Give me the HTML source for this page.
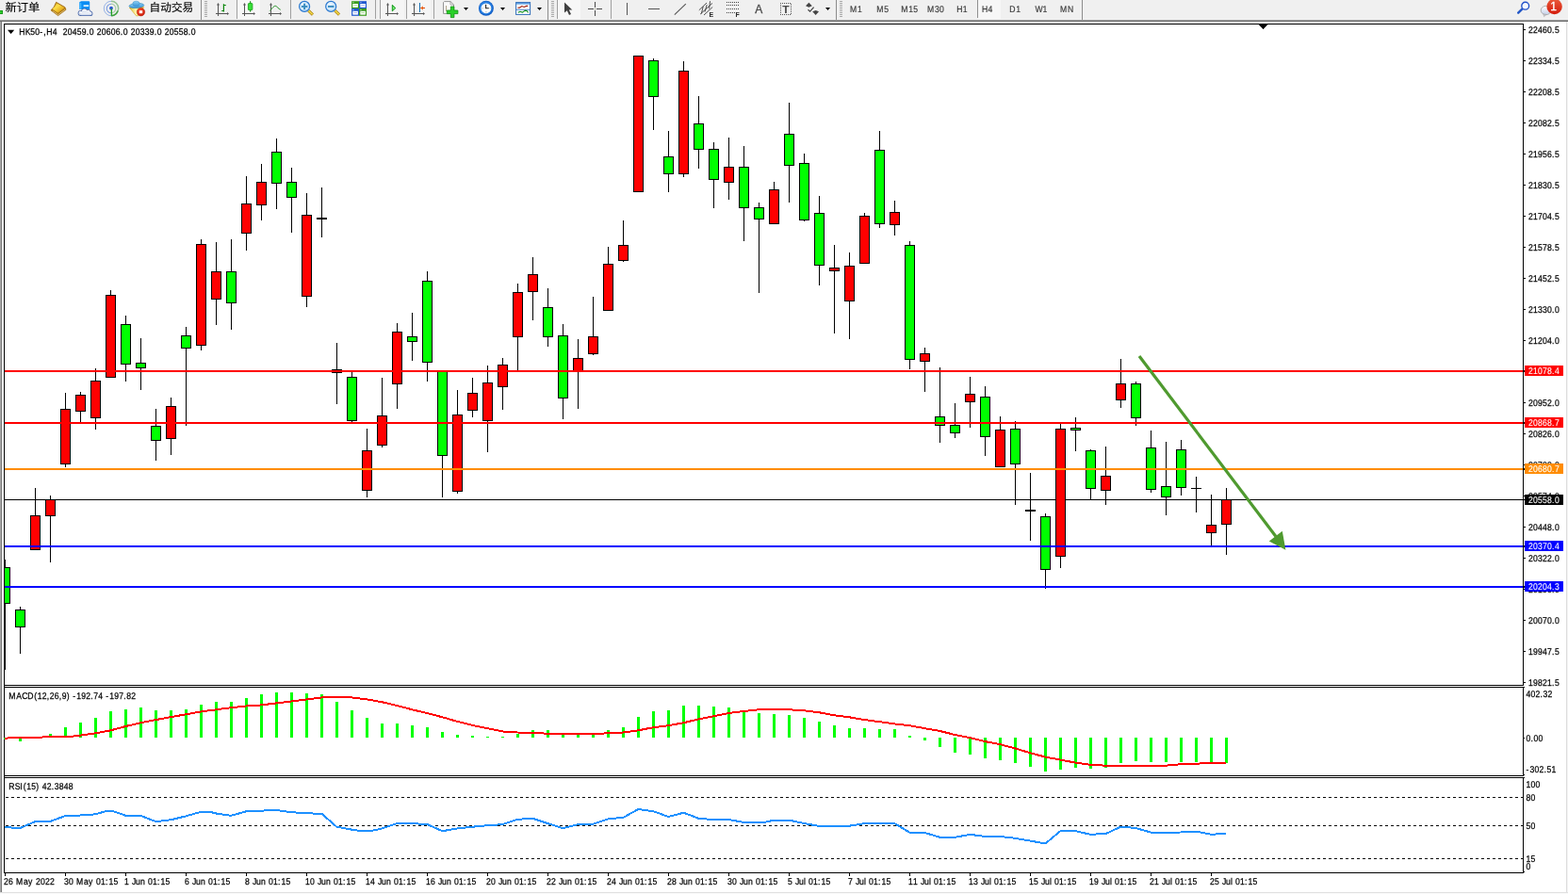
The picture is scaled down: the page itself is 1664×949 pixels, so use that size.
<!DOCTYPE html>
<html lang="zh"><head><meta charset="utf-8"><title>HK50-,H4</title>
<style>html,body{margin:0;padding:0;background:#fff;overflow:hidden}svg{display:block}text{font-family:"Liberation Sans","Noto Sans CJK SC",sans-serif}</style>
</head><body>
<svg width="1664" height="949" viewBox="0 0 1664 949">
<rect width="1664" height="949" fill="#fff"/>
<g id="toolbar">
<rect x="0" y="0" width="1664" height="21" fill="#f0f0f0"/>
<rect x="0" y="21" width="1664" height="1" fill="#a0a0a0"/>
<rect x="0" y="22" width="1664" height="1" fill="#696969"/>
<rect x="0" y="11" width="3" height="4" fill="#1a9a1a"/><rect x="0" y="12" width="2" height="2" fill="#30d030"/>
<text x="5.6" y="11.7" font-size="11.6" fill="#000" stroke="#000" stroke-width="0.15" textLength="36.8" lengthAdjust="spacingAndGlyphs">新订单</text>
<defs><linearGradient id="gBook" x1="0" y1="0" x2="1" y2="1"><stop offset="0" stop-color="#d8a020"/><stop offset="0.35" stop-color="#fbe04a"/><stop offset="0.7" stop-color="#e8b020"/><stop offset="1" stop-color="#b87818"/></linearGradient><linearGradient id="gCloud" x1="0" y1="0" x2="0" y2="1"><stop offset="0" stop-color="#ffffff"/><stop offset="1" stop-color="#c4d0e8"/></linearGradient><linearGradient id="gHat" x1="0" y1="0" x2="0" y2="1"><stop offset="0" stop-color="#8cd0f4"/><stop offset="1" stop-color="#3a94d8"/></linearGradient><linearGradient id="gFun" x1="0" y1="0" x2="1" y2="0"><stop offset="0" stop-color="#e8c020"/><stop offset="0.45" stop-color="#fdf6b0"/><stop offset="1" stop-color="#f0c828"/></linearGradient><radialGradient id="gRed" cx="0.4" cy="0.35" r="0.7"><stop offset="0" stop-color="#ff5030"/><stop offset="1" stop-color="#c81808"/></radialGradient><radialGradient id="gLens" cx="0.4" cy="0.35" r="0.7"><stop offset="0" stop-color="#f4faff"/><stop offset="1" stop-color="#b8dcf8"/></radialGradient><radialGradient id="gClock" cx="0.5" cy="0.5" r="0.5"><stop offset="0.6" stop-color="#ffffff"/><stop offset="0.72" stop-color="#4a90e0"/><stop offset="1" stop-color="#1858b8"/></radialGradient></defs>
<path d="M59.6 2.3 L69 7.7 L70 10.3 L61.6 16.6 L54.1 10.9 Q57.8 8 59.6 2.3 Z" fill="#b07a14" stroke="#a06a10" stroke-width="0.8" stroke-linejoin="round"/>
<path d="M60 3.2 L68.6 8.2 L61.4 13.8 L55.6 9.6 Q58.6 7 60 3.2 Z" fill="url(#gBook)"/>
<path d="M56 11.6 L61.6 15.6 L69.2 10" fill="none" stroke="#f0d890" stroke-width="0.7"/>
<path d="M84.3 2.2 L86.2 1.2 L94.6 1.2 L95.2 2.2 L95.2 10 L84.3 10 Z" fill="#0a8cf4"/>
<path d="M84.3 2.2 L86.4 3.4 L86.4 10 L84.3 10 Z" fill="#40b4ff"/>
<rect x="88.6" y="5.2" width="5.6" height="1.9" fill="#d8f0ff"/>
<g fill="#4a68a8"><circle cx="85.6" cy="13.9" r="3"/><circle cx="89.6" cy="12.3" r="3.5"/><circle cx="93.6" cy="12.9" r="3"/><circle cx="95.8" cy="14.4" r="2.6"/><rect x="85.6" y="14" width="10.2" height="3" rx="1"/></g>
<g fill="url(#gCloud)"><circle cx="85.6" cy="13.9" r="2.2"/><circle cx="89.6" cy="12.3" r="2.7"/><circle cx="93.6" cy="12.9" r="2.2"/><circle cx="95.8" cy="14.4" r="1.8"/><rect x="85.6" y="13.4" width="10.2" height="2.8" rx="1"/></g>
<path d="M118 1.3 A7.7 7.7 0 0 0 118 16.7" fill="none" stroke="#5a88dc" stroke-width="1" opacity="0.6"/>
<path d="M118 4.2 A4.8 4.8 0 0 0 118 13.8" fill="none" stroke="#4a78d8" stroke-width="1.1" opacity="0.7"/>
<path d="M118 1.3 A7.7 7.7 0 0 1 118 16.7" fill="none" stroke="#58a458" stroke-width="1.5" opacity="0.6"/>
<path d="M118 4.2 A4.8 4.8 0 0 1 118 13.8" fill="none" stroke="#78b478" stroke-width="1.3" opacity="0.6"/>
<path d="M118.3 16.7 A7.7 7.7 0 0 0 125 11.5" fill="none" stroke="#2a9a2a" stroke-width="1.6" opacity="0.8"/>
<circle cx="118" cy="8.7" r="1.9" fill="#2858d0"/>
<rect x="117.7" y="9.2" width="1.3" height="7.6" fill="#20a020"/>
<path d="M137.3 8 L152.6 7.6 L146.6 16.8 L144.6 16.8 Z" fill="url(#gFun)" stroke="#d0a018" stroke-width="0.6"/>
<ellipse cx="144.9" cy="6" rx="7.9" ry="2.5" fill="url(#gHat)" stroke="#2a80b8" stroke-width="0.6" transform="rotate(-4 144.9 6)"/>
<ellipse cx="144.5" cy="3.9" rx="3.7" ry="2.7" fill="url(#gHat)" stroke="#3a90c8" stroke-width="0.5"/>
<circle cx="149.5" cy="12.7" r="4.2" fill="url(#gRed)" stroke="#b01808" stroke-width="0.5"/><rect x="147.8" y="11.2" width="3.4" height="3" fill="#fff"/>
<text x="158.6" y="11.7" font-size="11.6" fill="#000" stroke="#000" stroke-width="0.15" textLength="46.6" lengthAdjust="spacingAndGlyphs">自动交易</text>
<rect x="213" y="0" width="1" height="21" fill="#8c8c8c" shape-rendering="crispEdges"/>
<rect x="217" y="1" width="3" height="1" fill="#a8a8a8" shape-rendering="crispEdges"/>
<rect x="217" y="3" width="3" height="1" fill="#a8a8a8" shape-rendering="crispEdges"/>
<rect x="217" y="5" width="3" height="1" fill="#a8a8a8" shape-rendering="crispEdges"/>
<rect x="217" y="7" width="3" height="1" fill="#a8a8a8" shape-rendering="crispEdges"/>
<rect x="217" y="9" width="3" height="1" fill="#a8a8a8" shape-rendering="crispEdges"/>
<rect x="217" y="11" width="3" height="1" fill="#a8a8a8" shape-rendering="crispEdges"/>
<rect x="217" y="13" width="3" height="1" fill="#a8a8a8" shape-rendering="crispEdges"/>
<rect x="217" y="15" width="3" height="1" fill="#a8a8a8" shape-rendering="crispEdges"/>
<rect x="217" y="17" width="3" height="1" fill="#a8a8a8" shape-rendering="crispEdges"/>
<g stroke="#555" stroke-width="1" fill="none" shape-rendering="crispEdges"><line x1="231.5" y1="4" x2="231.5" y2="17"/><line x1="229" y1="14.5" x2="242" y2="14.5"/></g>
<path d="M230 5.5 L231.5 3 L233 5.5 Z M241 13 L243 14.5 L241 16 Z" fill="#555"/>
<path d="M235.2 11.5 h2.2 M237.4 4.2 v8.4 M237.4 5.5 h2.4" fill="none" stroke="#0a860a" stroke-width="1.2"/>
<rect x="251" y="0" width="1" height="20" fill="#a0a0a0" shape-rendering="crispEdges"/>
<rect x="252" y="0" width="24" height="20" fill="#f7f7f7"/>
<g stroke="#555" stroke-width="1" fill="none" shape-rendering="crispEdges"><line x1="259.5" y1="4" x2="259.5" y2="17"/><line x1="257" y1="14.5" x2="270" y2="14.5"/></g>
<path d="M258 5.5 L259.5 3 L261 5.5 Z M269 13 L271 14.5 L269 16 Z" fill="#555"/>
<rect x="265.1" y="1.2" width="1.1" height="11.4" fill="#128a12"/><rect x="263.4" y="3.6" width="4.5" height="7" rx="0.6" fill="#38e038" stroke="#12a012" stroke-width="0.8"/>
<g stroke="#555" stroke-width="1" fill="none" shape-rendering="crispEdges"><line x1="287.5" y1="4" x2="287.5" y2="17"/><line x1="285" y1="14.5" x2="298" y2="14.5"/></g>
<path d="M286 5.5 L287.5 3 L289 5.5 Z M297 13 L299 14.5 L297 16 Z" fill="#555"/>
<path d="M286.3 11.5 C288.5 9.5 290.5 6 292.3 6.3 C294 6.6 295.5 9.5 297.7 10.3" fill="none" stroke="#1e8e1e" stroke-width="1"/>
<rect x="308" y="0" width="1" height="20" fill="#a0a0a0" shape-rendering="crispEdges"/>
<line x1="327.3" y1="11.2" x2="331.90000000000003" y2="15.6" stroke="#a87c10" stroke-width="3" stroke-linecap="butt"/>
<line x1="327.3" y1="11.2" x2="331.70000000000005" y2="15.4" stroke="#f0d848" stroke-width="1.6" stroke-linecap="butt"/>
<circle cx="323.1" cy="6.9" r="5.5" fill="url(#gLens)" stroke="#2a78d0" stroke-width="1.2"/>
<rect x="319.90000000000003" y="5.9" width="6.4" height="2" fill="#3a8cc0"/>
<rect x="322.1" y="3.7" width="2" height="6.4" fill="#3a8cc0"/>
<line x1="355.4" y1="11.2" x2="360.0" y2="15.6" stroke="#a87c10" stroke-width="3" stroke-linecap="butt"/>
<line x1="355.4" y1="11.2" x2="359.8" y2="15.4" stroke="#f0d848" stroke-width="1.6" stroke-linecap="butt"/>
<circle cx="351.2" cy="6.9" r="5.5" fill="url(#gLens)" stroke="#2a78d0" stroke-width="1.2"/>
<rect x="348.0" y="5.9" width="6.4" height="2" fill="#3a8cc0"/>
<rect x="373.1" y="1.2" width="7.9" height="7.8" fill="#3a9c1c"/><rect x="381" y="1.2" width="8" height="7.8" fill="#2058d0"/><rect x="373.1" y="9" width="7.9" height="7.8" fill="#2058d0"/><rect x="381" y="9" width="8" height="7.8" fill="#3a9c1c"/>
<rect x="374.3" y="4" width="5.6" height="3.8" fill="#fff"/><rect x="375.3" y="5.2" width="3.6" height="0.9" fill="#a8dc90"/><rect x="374.5" y="2.2" width="0.9" height="0.9" fill="#e8f0ff"/>
<rect x="382.3" y="4" width="5.6" height="3.8" fill="#fff"/><rect x="383.3" y="5.2" width="3.6" height="0.9" fill="#a0b8f0"/><rect x="382.5" y="2.2" width="0.9" height="0.9" fill="#e8f0ff"/>
<rect x="374.3" y="11.8" width="5.6" height="3.8" fill="#fff"/><rect x="375.3" y="13.0" width="3.6" height="0.9" fill="#a0b8f0"/><rect x="374.5" y="10.0" width="0.9" height="0.9" fill="#e8f0ff"/>
<rect x="382.3" y="11.8" width="5.6" height="3.8" fill="#fff"/><rect x="383.3" y="13.0" width="3.6" height="0.9" fill="#a8dc90"/><rect x="382.5" y="10.0" width="0.9" height="0.9" fill="#e8f0ff"/>
<rect x="398" y="0" width="1" height="20" fill="#a0a0a0" shape-rendering="crispEdges"/>
<rect x="403" y="0" width="1" height="20" fill="#a0a0a0" shape-rendering="crispEdges"/>
<rect x="404" y="0" width="25" height="20" fill="#f5f5f5"/>
<g stroke="#555" stroke-width="1" fill="none" shape-rendering="crispEdges"><line x1="411.5" y1="4" x2="411.5" y2="17"/><line x1="409" y1="14.5" x2="422" y2="14.5"/></g>
<path d="M410 5.5 L411.5 3 L413 5.5 Z M421 13 L423 14.5 L421 16 Z" fill="#555"/>
<path d="M416.3 5.3 L419.8 8.6 L416.3 11.8 Z" fill="#70e870" stroke="#12961a" stroke-width="1"/>
<rect x="431" y="0" width="1" height="20" fill="#a0a0a0" shape-rendering="crispEdges"/>
<rect x="432" y="0" width="25" height="20" fill="#f5f5f5"/>
<g stroke="#555" stroke-width="1" fill="none" shape-rendering="crispEdges"><line x1="439.5" y1="4" x2="439.5" y2="17"/><line x1="437" y1="14.5" x2="450" y2="14.5"/></g>
<path d="M438 5.5 L439.5 3 L441 5.5 Z M449 13 L451 14.5 L449 16 Z" fill="#555"/>
<rect x="445" y="3" width="1" height="10" fill="#1870b0"/><path d="M446.5 8.5 L451 8.5" stroke="#e04808" stroke-width="1" fill="none"/><path d="M446.3 8.5 L449 6.3 L448.6 8.5 L449 10.7 Z" fill="#e85808"/>
<rect x="460" y="0" width="1" height="20" fill="#a0a0a0" shape-rendering="crispEdges"/>
<path d="M471.5 1.6 h6.5 l3.5 3.4 v9.4 h-11 v-11.8 Z" fill="#fafafa" stroke="#8a8a8a" stroke-width="0.9" stroke-linejoin="round"/><path d="M478 1.6 v3.4 h3.5" fill="none" stroke="#8a8a8a" stroke-width="0.7"/><path d="M473.5 6 v6" stroke="#a09070" stroke-width="0.8"/>
<path d="M478.3 7 h3.6 v4 h4 v3.6 h-4 v4 h-3.6 v-4 h-4 v-3.6 h4 Z" fill="#28d028" stroke="#0c900c" stroke-width="0.8" stroke-linejoin="round"/>
<path d="M492 8 L497 8 L494.5 11 Z" fill="#000"/>
<circle cx="515.9" cy="8.8" r="8" fill="#1460c8"/><circle cx="515.6" cy="8.4" r="7" fill="#2a80e0"/><circle cx="515.9" cy="8.8" r="5.4" fill="#fdfdfd"/><path d="M515.6 4.8 V8.8 H518.8" fill="none" stroke="#222" stroke-width="1.1"/><g fill="#999"><rect x="515.4" y="12.3" width="1" height="1"/><rect x="511.6" y="8.4" width="1" height="1"/><rect x="519.6" y="8.4" width="0.8" height="0.8"/></g>
<path d="M531 8 L536 8 L533.5 11 Z" fill="#000"/>
<rect x="547.6" y="2.6" width="15" height="12.8" fill="#fdfeff" stroke="#2e6cb8" stroke-width="1"/><rect x="548" y="3" width="14.2" height="1.6" fill="#5a9ce0"/><rect x="548" y="9.8" width="14.2" height="0.9" fill="#3a78c8"/>
<path d="M549.4 8.3 l2 -0.2 l2.4 -1.6 l2.4 0.9 l2.4 -1 l1.6 0" fill="none" stroke="#a01c08" stroke-width="1.1"/><path d="M549.8 13.3 l2.2 -1 l2.4 0.8 l3 -2 l1.6 0.4 l1.6 1.8" fill="none" stroke="#10901c" stroke-width="1.1"/>
<path d="M570 8 L575 8 L572.5 11 Z" fill="#000"/>
<rect x="581" y="0" width="1" height="21" fill="#8c8c8c" shape-rendering="crispEdges"/>
<rect x="585" y="1" width="3" height="1" fill="#a8a8a8" shape-rendering="crispEdges"/>
<rect x="585" y="3" width="3" height="1" fill="#a8a8a8" shape-rendering="crispEdges"/>
<rect x="585" y="5" width="3" height="1" fill="#a8a8a8" shape-rendering="crispEdges"/>
<rect x="585" y="7" width="3" height="1" fill="#a8a8a8" shape-rendering="crispEdges"/>
<rect x="585" y="9" width="3" height="1" fill="#a8a8a8" shape-rendering="crispEdges"/>
<rect x="585" y="11" width="3" height="1" fill="#a8a8a8" shape-rendering="crispEdges"/>
<rect x="585" y="13" width="3" height="1" fill="#a8a8a8" shape-rendering="crispEdges"/>
<rect x="585" y="15" width="3" height="1" fill="#a8a8a8" shape-rendering="crispEdges"/>
<rect x="585" y="17" width="3" height="1" fill="#a8a8a8" shape-rendering="crispEdges"/>
<rect x="591" y="0" width="1" height="20" fill="#a0a0a0" shape-rendering="crispEdges"/>
<rect x="592" y="0" width="24" height="20" fill="#f7f7f7"/>
<path d="M599 2.5 L599 13.5 L601.8 11.2 L604 16 L606 15 L603.8 10.5 L607.3 10.5 Z" fill="#404040"/>
<g fill="#4a4a4a" shape-rendering="crispEdges"><rect x="631" y="2" width="1" height="6"/><rect x="631" y="11" width="1" height="6"/><rect x="624" y="9" width="6" height="1"/><rect x="633" y="9" width="6" height="1"/></g><rect x="631" y="9" width="1" height="1" fill="#8a8a6a"/>
<rect x="648" y="0" width="1" height="20" fill="#a0a0a0" shape-rendering="crispEdges"/>
<rect x="665" y="3" width="1" height="13" fill="#555" shape-rendering="crispEdges"/>
<rect x="688" y="9" width="12" height="1" fill="#555" shape-rendering="crispEdges"/>
<line x1="715.8" y1="15.6" x2="727.8" y2="4.2" stroke="#555" stroke-width="1.1"/>
<g stroke="#3c3c3c" stroke-width="0.9" fill="none"><line x1="741.8" y1="10.8" x2="750" y2="3"/><line x1="747" y1="16" x2="756.2" y2="7.5"/><line x1="743.2" y1="15" x2="756" y2="3.4"/><line x1="744.3" y1="14.6" x2="746.2" y2="7"/><line x1="748" y1="12.6" x2="750.2" y2="5"/><line x1="752.6" y1="9.4" x2="753.6" y2="1.2"/></g>
<text x="752.6" y="17.7" font-size="7" font-weight="bold" fill="#2a2a2a">E</text>
<g stroke="#444" stroke-width="1" stroke-dasharray="1 1" shape-rendering="crispEdges"><line x1="771" y1="2.5" x2="784" y2="2.5"/><line x1="771" y1="5.5" x2="784" y2="5.5"/><line x1="771" y1="9.5" x2="784" y2="9.5"/><line x1="771" y1="13.5" x2="780" y2="13.5"/></g>
<text x="780.6" y="17.7" font-size="7" font-weight="bold" fill="#2a2a2a">F</text>
<text x="801.2" y="13.8" font-size="12" fill="#4a4a4a" stroke="#4a4a4a" stroke-width="0.3">A</text>
<rect x="828" y="3" width="11" height="12.5" fill="none" stroke="#555" stroke-width="1" stroke-dasharray="1 1" shape-rendering="crispEdges"/>
<text x="830.2" y="13.8" font-size="11" font-weight="bold" fill="#4a4a4a" textLength="7.4" lengthAdjust="spacingAndGlyphs">T</text>
<path d="M855 6.3 L858.4 2.8 L861.8 6.3 L858.4 7.7 Z" fill="#444"/><path d="M862.2 12.3 L865.6 11 L869 12.3 L865.6 16 Z" fill="#444"/><path d="M857.5 10.2 L859.6 12.2 L863.6 7.6" fill="none" stroke="#444" stroke-width="1.2"/>
<path d="M876 8 L881 8 L878.5 11 Z" fill="#000"/>
<rect x="887" y="0" width="1" height="21" fill="#8c8c8c" shape-rendering="crispEdges"/>
<rect x="891" y="1" width="3" height="1" fill="#a8a8a8" shape-rendering="crispEdges"/>
<rect x="891" y="3" width="3" height="1" fill="#a8a8a8" shape-rendering="crispEdges"/>
<rect x="891" y="5" width="3" height="1" fill="#a8a8a8" shape-rendering="crispEdges"/>
<rect x="891" y="7" width="3" height="1" fill="#a8a8a8" shape-rendering="crispEdges"/>
<rect x="891" y="9" width="3" height="1" fill="#a8a8a8" shape-rendering="crispEdges"/>
<rect x="891" y="11" width="3" height="1" fill="#a8a8a8" shape-rendering="crispEdges"/>
<rect x="891" y="13" width="3" height="1" fill="#a8a8a8" shape-rendering="crispEdges"/>
<rect x="891" y="15" width="3" height="1" fill="#a8a8a8" shape-rendering="crispEdges"/>
<rect x="891" y="17" width="3" height="1" fill="#a8a8a8" shape-rendering="crispEdges"/>
<rect x="1038" y="0" width="24" height="20" fill="#f7f7f7"/>
<rect x="1037" y="0" width="1" height="19" fill="#909090" shape-rendering="crispEdges"/>
<text transform="translate(902.0,13.0) scale(0.88,1)" x="0.00 9.09" y="0" font-size="9.8" fill="#3c3c3c" stroke="#3c3c3c" stroke-width="0.2" text-rendering="geometricPrecision" xml:space="preserve">M1</text>
<text transform="translate(930.2,13.0) scale(0.88,1)" x="0.00 9.09" y="0" font-size="9.8" fill="#3c3c3c" stroke="#3c3c3c" stroke-width="0.2" text-rendering="geometricPrecision" xml:space="preserve">M5</text>
<text transform="translate(956.3,13.0) scale(0.88,1)" x="0.00 9.09 14.77" y="0" font-size="9.8" fill="#3c3c3c" stroke="#3c3c3c" stroke-width="0.2" text-rendering="geometricPrecision" xml:space="preserve">M15</text>
<text transform="translate(984.0,13.0) scale(0.88,1)" x="0.00 9.09 14.77" y="0" font-size="9.8" fill="#3c3c3c" stroke="#3c3c3c" stroke-width="0.2" text-rendering="geometricPrecision" xml:space="preserve">M30</text>
<text transform="translate(1015.2,13.0) scale(0.88,1)" x="0.00 7.39" y="0" font-size="9.8" fill="#3c3c3c" stroke="#3c3c3c" stroke-width="0.2" text-rendering="geometricPrecision" xml:space="preserve">H1</text>
<text transform="translate(1042.0,13.0) scale(0.88,1)" x="0.00 7.39" y="0" font-size="9.8" fill="#3c3c3c" stroke="#3c3c3c" stroke-width="0.2" text-rendering="geometricPrecision" xml:space="preserve">H4</text>
<text transform="translate(1071.2,13.0) scale(0.88,1)" x="0.00 7.95" y="0" font-size="9.8" fill="#3c3c3c" stroke="#3c3c3c" stroke-width="0.2" text-rendering="geometricPrecision" xml:space="preserve">D1</text>
<text transform="translate(1098.6,13.0) scale(0.88,1)" x="0.00 9.09" y="0" font-size="9.8" fill="#3c3c3c" stroke="#3c3c3c" stroke-width="0.2" text-rendering="geometricPrecision" xml:space="preserve">W1</text>
<text transform="translate(1125.1,13.0) scale(0.88,1)" x="0.00 9.09" y="0" font-size="9.8" fill="#3c3c3c" stroke="#3c3c3c" stroke-width="0.2" text-rendering="geometricPrecision" xml:space="preserve">MN</text>
<rect x="1148" y="0" width="1" height="21" fill="#8c8c8c" shape-rendering="crispEdges"/>
<line x1="1615.6" y1="9.3" x2="1611.2" y2="13.7" stroke="#2458c8" stroke-width="2.4" stroke-linecap="round"/>
<circle cx="1618.7" cy="6.2" r="3.9" fill="#f4f8ff" stroke="#2050c8" stroke-width="1.4"/>
<ellipse cx="1640.6" cy="11" rx="5.4" ry="4.7" fill="url(#gCloud)" stroke="#a8a8a8" stroke-width="0.9"/><path d="M1638 15 L1638.6 17.6 L1641 15.4 Z" fill="#d8d8e4" stroke="#a0a0a0" stroke-width="0.6"/>
<defs><linearGradient id="gBadge" x1="0" y1="0" x2="0" y2="1"><stop offset="0" stop-color="#ea5a3a"/><stop offset="1" stop-color="#d41c0c"/></linearGradient></defs>
<circle cx="1649.6" cy="7" r="8.2" fill="url(#gBadge)"/>
<text x="1648.5" y="11" font-size="12" fill="#fff" stroke="#fff" stroke-width="0.3" text-anchor="middle">1</text>
</g>
<g shape-rendering="crispEdges">
<rect x="0" y="23" width="1" height="924" fill="#a8a8a8"/><rect x="1" y="23" width="1" height="924" fill="#787878"/>
<rect x="1662" y="23" width="1" height="926" fill="#dcdcdc"/><rect x="1663" y="23" width="1" height="926" fill="#f4f4f4"/>
<rect x="0" y="947" width="1664" height="1" fill="#e0e0e0"/><rect x="0" y="948" width="1664" height="1" fill="#fafafa"/>
<rect x="4" y="25" width="1613" height="1" fill="#000"/>
<rect x="4" y="25" width="1" height="902" fill="#000"/>
<rect x="1616" y="25" width="1" height="703" fill="#000"/><rect x="1616" y="729" width="1" height="95" fill="#000"/><rect x="1616" y="825" width="1" height="102" fill="#000"/>
<rect x="1617" y="729" width="1" height="1" fill="#000"/><rect x="1617" y="822" width="1" height="1" fill="#000"/><rect x="1617" y="825" width="1" height="1" fill="#000"/><rect x="1617" y="925" width="1" height="1" fill="#000"/>
<rect x="4" y="727" width="1613" height="1" fill="#000"/>
<rect x="4" y="729" width="1613" height="1" fill="#000"/>
<rect x="4" y="823" width="1613" height="1" fill="#000"/>
<rect x="4" y="825" width="1613" height="1" fill="#000"/>
<rect x="4" y="926" width="1613" height="1" fill="#000"/>
</g>
<g fill="#000" shape-rendering="crispEdges"><rect x="1336" y="26" width="9" height="1"/><rect x="1337" y="27" width="7" height="1"/><rect x="1338" y="28" width="5" height="1"/><rect x="1339" y="29" width="3" height="1"/><rect x="1340" y="30" width="1" height="1"/></g>
<defs><clipPath id="cp"><rect x="5" y="26" width="1611" height="701"/></clipPath></defs>
<rect x="5" y="530" width="1611" height="1" fill="#000" shape-rendering="crispEdges"/>
<g id="candles" shape-rendering="crispEdges" clip-path="url(#cp)">
<rect x="5" y="594" width="1" height="117" fill="#000"/>
<rect x="0" y="602" width="11" height="39" fill="#000"/>
<rect x="1" y="603" width="9" height="37" fill="#0f0"/>
<rect x="21" y="644" width="1" height="50" fill="#000"/>
<rect x="16" y="647" width="11" height="19" fill="#000"/>
<rect x="17" y="648" width="9" height="17" fill="#0f0"/>
<rect x="37" y="518" width="1" height="66" fill="#000"/>
<rect x="32" y="547" width="11" height="37" fill="#000"/>
<rect x="33" y="548" width="9" height="35" fill="#f00"/>
<rect x="53" y="526" width="1" height="71" fill="#000"/>
<rect x="48" y="530" width="11" height="18" fill="#000"/>
<rect x="49" y="531" width="9" height="16" fill="#f00"/>
<rect x="69" y="417" width="1" height="79" fill="#000"/>
<rect x="64" y="434" width="11" height="59" fill="#000"/>
<rect x="65" y="435" width="9" height="57" fill="#f00"/>
<rect x="85" y="416" width="1" height="32" fill="#000"/>
<rect x="80" y="419" width="11" height="18" fill="#000"/>
<rect x="81" y="420" width="9" height="16" fill="#f00"/>
<rect x="101" y="391" width="1" height="65" fill="#000"/>
<rect x="96" y="404" width="11" height="40" fill="#000"/>
<rect x="97" y="405" width="9" height="38" fill="#f00"/>
<rect x="117" y="308" width="1" height="93" fill="#000"/>
<rect x="112" y="313" width="11" height="88" fill="#000"/>
<rect x="113" y="314" width="9" height="86" fill="#f00"/>
<rect x="133" y="335" width="1" height="70" fill="#000"/>
<rect x="128" y="344" width="11" height="43" fill="#000"/>
<rect x="129" y="345" width="9" height="41" fill="#0f0"/>
<rect x="149" y="359" width="1" height="55" fill="#000"/>
<rect x="144" y="385" width="11" height="6" fill="#000"/>
<rect x="145" y="386" width="9" height="4" fill="#0f0"/>
<rect x="165" y="434" width="1" height="55" fill="#000"/>
<rect x="160" y="452" width="11" height="16" fill="#000"/>
<rect x="161" y="453" width="9" height="14" fill="#0f0"/>
<rect x="181" y="422" width="1" height="61" fill="#000"/>
<rect x="176" y="431" width="11" height="35" fill="#000"/>
<rect x="177" y="432" width="9" height="33" fill="#f00"/>
<rect x="197" y="347" width="1" height="105" fill="#000"/>
<rect x="192" y="356" width="11" height="14" fill="#000"/>
<rect x="193" y="357" width="9" height="12" fill="#0f0"/>
<rect x="213" y="254" width="1" height="118" fill="#000"/>
<rect x="208" y="259" width="11" height="108" fill="#000"/>
<rect x="209" y="260" width="9" height="106" fill="#f00"/>
<rect x="229" y="257" width="1" height="88" fill="#000"/>
<rect x="224" y="288" width="11" height="30" fill="#000"/>
<rect x="225" y="289" width="9" height="28" fill="#f00"/>
<rect x="245" y="254" width="1" height="96" fill="#000"/>
<rect x="240" y="288" width="11" height="34" fill="#000"/>
<rect x="241" y="289" width="9" height="32" fill="#0f0"/>
<rect x="261" y="187" width="1" height="79" fill="#000"/>
<rect x="256" y="216" width="11" height="32" fill="#000"/>
<rect x="257" y="217" width="9" height="30" fill="#f00"/>
<rect x="277" y="174" width="1" height="60" fill="#000"/>
<rect x="272" y="193" width="11" height="25" fill="#000"/>
<rect x="273" y="194" width="9" height="23" fill="#f00"/>
<rect x="293" y="147" width="1" height="75" fill="#000"/>
<rect x="288" y="161" width="11" height="34" fill="#000"/>
<rect x="289" y="162" width="9" height="32" fill="#0f0"/>
<rect x="309" y="178" width="1" height="69" fill="#000"/>
<rect x="304" y="193" width="11" height="17" fill="#000"/>
<rect x="305" y="194" width="9" height="15" fill="#0f0"/>
<rect x="325" y="205" width="1" height="121" fill="#000"/>
<rect x="320" y="228" width="11" height="87" fill="#000"/>
<rect x="321" y="229" width="9" height="85" fill="#f00"/>
<rect x="341" y="199" width="1" height="53" fill="#000"/>
<rect x="336" y="231" width="11" height="2" fill="#000"/>
<rect x="357" y="364" width="1" height="65" fill="#000"/>
<rect x="352" y="392" width="11" height="4" fill="#000"/>
<rect x="353" y="393" width="9" height="2" fill="#f00"/>
<rect x="373" y="395" width="1" height="53" fill="#000"/>
<rect x="368" y="400" width="11" height="47" fill="#000"/>
<rect x="369" y="401" width="9" height="45" fill="#0f0"/>
<rect x="389" y="455" width="1" height="73" fill="#000"/>
<rect x="384" y="478" width="11" height="43" fill="#000"/>
<rect x="385" y="479" width="9" height="41" fill="#f00"/>
<rect x="405" y="401" width="1" height="74" fill="#000"/>
<rect x="400" y="441" width="11" height="32" fill="#000"/>
<rect x="401" y="442" width="9" height="30" fill="#f00"/>
<rect x="421" y="343" width="1" height="91" fill="#000"/>
<rect x="416" y="352" width="11" height="56" fill="#000"/>
<rect x="417" y="353" width="9" height="54" fill="#f00"/>
<rect x="437" y="332" width="1" height="51" fill="#000"/>
<rect x="432" y="357" width="11" height="6" fill="#000"/>
<rect x="433" y="358" width="9" height="4" fill="#0f0"/>
<rect x="453" y="288" width="1" height="117" fill="#000"/>
<rect x="448" y="298" width="11" height="87" fill="#000"/>
<rect x="449" y="299" width="9" height="85" fill="#0f0"/>
<rect x="469" y="394" width="1" height="134" fill="#000"/>
<rect x="464" y="394" width="11" height="90" fill="#000"/>
<rect x="465" y="395" width="9" height="88" fill="#0f0"/>
<rect x="485" y="414" width="1" height="110" fill="#000"/>
<rect x="480" y="440" width="11" height="82" fill="#000"/>
<rect x="481" y="441" width="9" height="80" fill="#f00"/>
<rect x="501" y="401" width="1" height="42" fill="#000"/>
<rect x="496" y="417" width="11" height="19" fill="#000"/>
<rect x="497" y="418" width="9" height="17" fill="#f00"/>
<rect x="517" y="388" width="1" height="92" fill="#000"/>
<rect x="512" y="406" width="11" height="41" fill="#000"/>
<rect x="513" y="407" width="9" height="39" fill="#f00"/>
<rect x="533" y="380" width="1" height="55" fill="#000"/>
<rect x="528" y="387" width="11" height="24" fill="#000"/>
<rect x="529" y="388" width="9" height="22" fill="#f00"/>
<rect x="549" y="301" width="1" height="92" fill="#000"/>
<rect x="544" y="310" width="11" height="48" fill="#000"/>
<rect x="545" y="311" width="9" height="46" fill="#f00"/>
<rect x="565" y="273" width="1" height="67" fill="#000"/>
<rect x="560" y="291" width="11" height="19" fill="#000"/>
<rect x="561" y="292" width="9" height="17" fill="#f00"/>
<rect x="581" y="306" width="1" height="62" fill="#000"/>
<rect x="576" y="326" width="11" height="32" fill="#000"/>
<rect x="577" y="327" width="9" height="30" fill="#0f0"/>
<rect x="597" y="344" width="1" height="101" fill="#000"/>
<rect x="592" y="356" width="11" height="67" fill="#000"/>
<rect x="593" y="357" width="9" height="65" fill="#0f0"/>
<rect x="613" y="360" width="1" height="74" fill="#000"/>
<rect x="608" y="380" width="11" height="14" fill="#000"/>
<rect x="609" y="381" width="9" height="12" fill="#f00"/>
<rect x="629" y="315" width="1" height="62" fill="#000"/>
<rect x="624" y="357" width="11" height="19" fill="#000"/>
<rect x="625" y="358" width="9" height="17" fill="#f00"/>
<rect x="645" y="262" width="1" height="68" fill="#000"/>
<rect x="640" y="280" width="11" height="50" fill="#000"/>
<rect x="641" y="281" width="9" height="48" fill="#f00"/>
<rect x="661" y="234" width="1" height="44" fill="#000"/>
<rect x="656" y="260" width="11" height="17" fill="#000"/>
<rect x="657" y="261" width="9" height="15" fill="#f00"/>
<rect x="677" y="59" width="1" height="145" fill="#000"/>
<rect x="672" y="59" width="11" height="145" fill="#000"/>
<rect x="673" y="60" width="9" height="143" fill="#f00"/>
<rect x="693" y="62" width="1" height="76" fill="#000"/>
<rect x="688" y="64" width="11" height="39" fill="#000"/>
<rect x="689" y="65" width="9" height="37" fill="#0f0"/>
<rect x="709" y="139" width="1" height="65" fill="#000"/>
<rect x="704" y="166" width="11" height="19" fill="#000"/>
<rect x="705" y="167" width="9" height="17" fill="#0f0"/>
<rect x="725" y="65" width="1" height="123" fill="#000"/>
<rect x="720" y="75" width="11" height="110" fill="#000"/>
<rect x="721" y="76" width="9" height="108" fill="#f00"/>
<rect x="741" y="102" width="1" height="77" fill="#000"/>
<rect x="736" y="131" width="11" height="28" fill="#000"/>
<rect x="737" y="132" width="9" height="26" fill="#0f0"/>
<rect x="757" y="151" width="1" height="70" fill="#000"/>
<rect x="752" y="158" width="11" height="33" fill="#000"/>
<rect x="753" y="159" width="9" height="31" fill="#0f0"/>
<rect x="773" y="146" width="1" height="66" fill="#000"/>
<rect x="768" y="177" width="11" height="17" fill="#000"/>
<rect x="769" y="178" width="9" height="15" fill="#f00"/>
<rect x="789" y="155" width="1" height="101" fill="#000"/>
<rect x="784" y="177" width="11" height="44" fill="#000"/>
<rect x="785" y="178" width="9" height="42" fill="#0f0"/>
<rect x="805" y="215" width="1" height="96" fill="#000"/>
<rect x="800" y="220" width="11" height="13" fill="#000"/>
<rect x="801" y="221" width="9" height="11" fill="#0f0"/>
<rect x="821" y="193" width="1" height="45" fill="#000"/>
<rect x="816" y="201" width="11" height="37" fill="#000"/>
<rect x="817" y="202" width="9" height="35" fill="#f00"/>
<rect x="837" y="109" width="1" height="106" fill="#000"/>
<rect x="832" y="142" width="11" height="34" fill="#000"/>
<rect x="833" y="143" width="9" height="32" fill="#0f0"/>
<rect x="853" y="163" width="1" height="72" fill="#000"/>
<rect x="848" y="173" width="11" height="61" fill="#000"/>
<rect x="849" y="174" width="9" height="59" fill="#0f0"/>
<rect x="869" y="208" width="1" height="95" fill="#000"/>
<rect x="864" y="226" width="11" height="56" fill="#000"/>
<rect x="865" y="227" width="9" height="54" fill="#0f0"/>
<rect x="885" y="260" width="1" height="94" fill="#000"/>
<rect x="880" y="284" width="11" height="4" fill="#000"/>
<rect x="881" y="285" width="9" height="2" fill="#f00"/>
<rect x="901" y="268" width="1" height="92" fill="#000"/>
<rect x="896" y="282" width="11" height="38" fill="#000"/>
<rect x="897" y="283" width="9" height="36" fill="#f00"/>
<rect x="917" y="226" width="1" height="54" fill="#000"/>
<rect x="912" y="229" width="11" height="51" fill="#000"/>
<rect x="913" y="230" width="9" height="49" fill="#f00"/>
<rect x="933" y="139" width="1" height="103" fill="#000"/>
<rect x="928" y="159" width="11" height="79" fill="#000"/>
<rect x="929" y="160" width="9" height="77" fill="#0f0"/>
<rect x="949" y="213" width="1" height="37" fill="#000"/>
<rect x="944" y="225" width="11" height="14" fill="#000"/>
<rect x="945" y="226" width="9" height="12" fill="#f00"/>
<rect x="965" y="256" width="1" height="136" fill="#000"/>
<rect x="960" y="260" width="11" height="122" fill="#000"/>
<rect x="961" y="261" width="9" height="120" fill="#0f0"/>
<rect x="981" y="369" width="1" height="47" fill="#000"/>
<rect x="976" y="375" width="11" height="9" fill="#000"/>
<rect x="977" y="376" width="9" height="7" fill="#f00"/>
<rect x="997" y="390" width="1" height="80" fill="#000"/>
<rect x="992" y="442" width="11" height="10" fill="#000"/>
<rect x="993" y="443" width="9" height="8" fill="#0f0"/>
<rect x="1013" y="428" width="1" height="37" fill="#000"/>
<rect x="1008" y="451" width="11" height="9" fill="#000"/>
<rect x="1009" y="452" width="9" height="7" fill="#0f0"/>
<rect x="1029" y="400" width="1" height="54" fill="#000"/>
<rect x="1024" y="418" width="11" height="9" fill="#000"/>
<rect x="1025" y="419" width="9" height="7" fill="#f00"/>
<rect x="1045" y="410" width="1" height="74" fill="#000"/>
<rect x="1040" y="421" width="11" height="43" fill="#000"/>
<rect x="1041" y="422" width="9" height="41" fill="#0f0"/>
<rect x="1061" y="442" width="1" height="54" fill="#000"/>
<rect x="1056" y="456" width="11" height="40" fill="#000"/>
<rect x="1057" y="457" width="9" height="38" fill="#f00"/>
<rect x="1077" y="447" width="1" height="89" fill="#000"/>
<rect x="1072" y="455" width="11" height="38" fill="#000"/>
<rect x="1073" y="456" width="9" height="36" fill="#0f0"/>
<rect x="1093" y="502" width="1" height="72" fill="#000"/>
<rect x="1088" y="541" width="11" height="2" fill="#000"/>
<rect x="1109" y="545" width="1" height="80" fill="#000"/>
<rect x="1104" y="548" width="11" height="57" fill="#000"/>
<rect x="1105" y="549" width="9" height="55" fill="#0f0"/>
<rect x="1125" y="450" width="1" height="153" fill="#000"/>
<rect x="1120" y="455" width="11" height="136" fill="#000"/>
<rect x="1121" y="456" width="9" height="134" fill="#f00"/>
<rect x="1141" y="443" width="1" height="36" fill="#000"/>
<rect x="1136" y="454" width="11" height="3" fill="#000"/>
<rect x="1137" y="455" width="9" height="1" fill="#0f0"/>
<rect x="1157" y="477" width="1" height="53" fill="#000"/>
<rect x="1152" y="478" width="11" height="41" fill="#000"/>
<rect x="1153" y="479" width="9" height="39" fill="#0f0"/>
<rect x="1173" y="474" width="1" height="62" fill="#000"/>
<rect x="1168" y="505" width="11" height="16" fill="#000"/>
<rect x="1169" y="506" width="9" height="14" fill="#f00"/>
<rect x="1189" y="381" width="1" height="52" fill="#000"/>
<rect x="1184" y="407" width="11" height="18" fill="#000"/>
<rect x="1185" y="408" width="9" height="16" fill="#f00"/>
<rect x="1205" y="405" width="1" height="47" fill="#000"/>
<rect x="1200" y="407" width="11" height="37" fill="#000"/>
<rect x="1201" y="408" width="9" height="35" fill="#0f0"/>
<rect x="1221" y="457" width="1" height="66" fill="#000"/>
<rect x="1216" y="475" width="11" height="45" fill="#000"/>
<rect x="1217" y="476" width="9" height="43" fill="#0f0"/>
<rect x="1237" y="469" width="1" height="78" fill="#000"/>
<rect x="1232" y="516" width="11" height="12" fill="#000"/>
<rect x="1233" y="517" width="9" height="10" fill="#0f0"/>
<rect x="1253" y="467" width="1" height="59" fill="#000"/>
<rect x="1248" y="477" width="11" height="41" fill="#000"/>
<rect x="1249" y="478" width="9" height="39" fill="#0f0"/>
<rect x="1269" y="506" width="1" height="38" fill="#000"/>
<rect x="1264" y="518" width="11" height="1" fill="#000"/>
<rect x="1285" y="525" width="1" height="54" fill="#000"/>
<rect x="1280" y="557" width="11" height="9" fill="#000"/>
<rect x="1281" y="558" width="9" height="7" fill="#f00"/>
<rect x="1301" y="518" width="1" height="71" fill="#000"/>
<rect x="1296" y="530" width="11" height="27" fill="#000"/>
<rect x="1297" y="531" width="9" height="25" fill="#f00"/>
</g>
<g id="hlines" shape-rendering="crispEdges">
<rect x="5" y="393" width="1611" height="2" fill="#f00"/>
<rect x="5" y="448" width="1611" height="2" fill="#f00"/>
<rect x="5" y="497" width="1611" height="2" fill="#ff8c00"/>
<rect x="5" y="579" width="1611" height="2" fill="#00f"/>
<rect x="5" y="622" width="1611" height="2" fill="#00f"/>
</g>
<g id="arrow">
<line x1="1209" y1="378" x2="1354" y2="569.5" stroke="#4f9a2f" stroke-width="3.2"/>
<path d="M1364.4 583.8 L1346.8 574.5 L1360.8 563.8 Z" fill="#4f9a2f"/>
</g>
<g id="paxis">
<rect x="1617" y="31" width="2" height="1" fill="#000" shape-rendering="crispEdges"/>
<text transform="translate(1621.9,35) scale(0.88,1)" x="0.00 5.68 11.36 17.05 22.73 28.41 31.82" y="0" font-size="9.8" fill="#000" stroke="#000" stroke-width="0.25" text-rendering="geometricPrecision" xml:space="preserve">22460.5</text>
<rect x="1617" y="64" width="2" height="1" fill="#000" shape-rendering="crispEdges"/>
<text transform="translate(1621.9,68) scale(0.88,1)" x="0.00 5.68 11.36 17.05 22.73 28.41 31.82" y="0" font-size="9.8" fill="#000" stroke="#000" stroke-width="0.25" text-rendering="geometricPrecision" xml:space="preserve">22334.5</text>
<rect x="1617" y="97" width="2" height="1" fill="#000" shape-rendering="crispEdges"/>
<text transform="translate(1621.9,101) scale(0.88,1)" x="0.00 5.68 11.36 17.05 22.73 28.41 31.82" y="0" font-size="9.8" fill="#000" stroke="#000" stroke-width="0.25" text-rendering="geometricPrecision" xml:space="preserve">22208.5</text>
<rect x="1617" y="130" width="2" height="1" fill="#000" shape-rendering="crispEdges"/>
<text transform="translate(1621.9,134) scale(0.88,1)" x="0.00 5.68 11.36 17.05 22.73 28.41 31.82" y="0" font-size="9.8" fill="#000" stroke="#000" stroke-width="0.25" text-rendering="geometricPrecision" xml:space="preserve">22082.5</text>
<rect x="1617" y="163" width="2" height="1" fill="#000" shape-rendering="crispEdges"/>
<text transform="translate(1621.9,167) scale(0.88,1)" x="0.00 5.68 11.36 17.05 22.73 28.41 31.82" y="0" font-size="9.8" fill="#000" stroke="#000" stroke-width="0.25" text-rendering="geometricPrecision" xml:space="preserve">21956.5</text>
<rect x="1617" y="196" width="2" height="1" fill="#000" shape-rendering="crispEdges"/>
<text transform="translate(1621.9,200) scale(0.88,1)" x="0.00 5.68 11.36 17.05 22.73 28.41 31.82" y="0" font-size="9.8" fill="#000" stroke="#000" stroke-width="0.25" text-rendering="geometricPrecision" xml:space="preserve">21830.5</text>
<rect x="1617" y="229" width="2" height="1" fill="#000" shape-rendering="crispEdges"/>
<text transform="translate(1621.9,233) scale(0.88,1)" x="0.00 5.68 11.36 17.05 22.73 28.41 31.82" y="0" font-size="9.8" fill="#000" stroke="#000" stroke-width="0.25" text-rendering="geometricPrecision" xml:space="preserve">21704.5</text>
<rect x="1617" y="262" width="2" height="1" fill="#000" shape-rendering="crispEdges"/>
<text transform="translate(1621.9,266) scale(0.88,1)" x="0.00 5.68 11.36 17.05 22.73 28.41 31.82" y="0" font-size="9.8" fill="#000" stroke="#000" stroke-width="0.25" text-rendering="geometricPrecision" xml:space="preserve">21578.5</text>
<rect x="1617" y="295" width="2" height="1" fill="#000" shape-rendering="crispEdges"/>
<text transform="translate(1621.9,299) scale(0.88,1)" x="0.00 5.68 11.36 17.05 22.73 28.41 31.82" y="0" font-size="9.8" fill="#000" stroke="#000" stroke-width="0.25" text-rendering="geometricPrecision" xml:space="preserve">21452.5</text>
<rect x="1617" y="328" width="2" height="1" fill="#000" shape-rendering="crispEdges"/>
<text transform="translate(1621.9,332) scale(0.88,1)" x="0.00 5.68 11.36 17.05 22.73 28.41 31.82" y="0" font-size="9.8" fill="#000" stroke="#000" stroke-width="0.25" text-rendering="geometricPrecision" xml:space="preserve">21330.0</text>
<rect x="1617" y="361" width="2" height="1" fill="#000" shape-rendering="crispEdges"/>
<text transform="translate(1621.9,365) scale(0.88,1)" x="0.00 5.68 11.36 17.05 22.73 28.41 31.82" y="0" font-size="9.8" fill="#000" stroke="#000" stroke-width="0.25" text-rendering="geometricPrecision" xml:space="preserve">21204.0</text>
<rect x="1617" y="394" width="2" height="1" fill="#000" shape-rendering="crispEdges"/>
<text transform="translate(1621.9,398) scale(0.88,1)" x="0.00 5.68 11.36 17.05 22.73 28.41 31.82" y="0" font-size="9.8" fill="#000" stroke="#000" stroke-width="0.25" text-rendering="geometricPrecision" xml:space="preserve">21078.0</text>
<rect x="1617" y="427" width="2" height="1" fill="#000" shape-rendering="crispEdges"/>
<text transform="translate(1621.9,431) scale(0.88,1)" x="0.00 5.68 11.36 17.05 22.73 28.41 31.82" y="0" font-size="9.8" fill="#000" stroke="#000" stroke-width="0.25" text-rendering="geometricPrecision" xml:space="preserve">20952.0</text>
<rect x="1617" y="460" width="2" height="1" fill="#000" shape-rendering="crispEdges"/>
<text transform="translate(1621.9,464) scale(0.88,1)" x="0.00 5.68 11.36 17.05 22.73 28.41 31.82" y="0" font-size="9.8" fill="#000" stroke="#000" stroke-width="0.25" text-rendering="geometricPrecision" xml:space="preserve">20826.0</text>
<rect x="1617" y="493" width="2" height="1" fill="#000" shape-rendering="crispEdges"/>
<text transform="translate(1621.9,497) scale(0.88,1)" x="0.00 5.68 11.36 17.05 22.73 28.41 31.82" y="0" font-size="9.8" fill="#000" stroke="#000" stroke-width="0.25" text-rendering="geometricPrecision" xml:space="preserve">20700.0</text>
<rect x="1617" y="526" width="2" height="1" fill="#000" shape-rendering="crispEdges"/>
<text transform="translate(1621.9,530) scale(0.88,1)" x="0.00 5.68 11.36 17.05 22.73 28.41 31.82" y="0" font-size="9.8" fill="#000" stroke="#000" stroke-width="0.25" text-rendering="geometricPrecision" xml:space="preserve">20574.0</text>
<rect x="1617" y="559" width="2" height="1" fill="#000" shape-rendering="crispEdges"/>
<text transform="translate(1621.9,563) scale(0.88,1)" x="0.00 5.68 11.36 17.05 22.73 28.41 31.82" y="0" font-size="9.8" fill="#000" stroke="#000" stroke-width="0.25" text-rendering="geometricPrecision" xml:space="preserve">20448.0</text>
<rect x="1617" y="592" width="2" height="1" fill="#000" shape-rendering="crispEdges"/>
<text transform="translate(1621.9,596) scale(0.88,1)" x="0.00 5.68 11.36 17.05 22.73 28.41 31.82" y="0" font-size="9.8" fill="#000" stroke="#000" stroke-width="0.25" text-rendering="geometricPrecision" xml:space="preserve">20322.0</text>
<rect x="1617" y="625" width="2" height="1" fill="#000" shape-rendering="crispEdges"/>
<text transform="translate(1621.9,629) scale(0.88,1)" x="0.00 5.68 11.36 17.05 22.73 28.41 31.82" y="0" font-size="9.8" fill="#000" stroke="#000" stroke-width="0.25" text-rendering="geometricPrecision" xml:space="preserve">20196.0</text>
<rect x="1617" y="658" width="2" height="1" fill="#000" shape-rendering="crispEdges"/>
<text transform="translate(1621.9,662) scale(0.88,1)" x="0.00 5.68 11.36 17.05 22.73 28.41 31.82" y="0" font-size="9.8" fill="#000" stroke="#000" stroke-width="0.25" text-rendering="geometricPrecision" xml:space="preserve">20070.0</text>
<rect x="1617" y="691" width="2" height="1" fill="#000" shape-rendering="crispEdges"/>
<text transform="translate(1621.9,695) scale(0.88,1)" x="0.00 5.68 11.36 17.05 22.73 28.41 31.82" y="0" font-size="9.8" fill="#000" stroke="#000" stroke-width="0.25" text-rendering="geometricPrecision" xml:space="preserve">19947.5</text>
<rect x="1617" y="724" width="2" height="1" fill="#000" shape-rendering="crispEdges"/>
<text transform="translate(1621.9,728) scale(0.88,1)" x="0.00 5.68 11.36 17.05 22.73 28.41 31.82" y="0" font-size="9.8" fill="#000" stroke="#000" stroke-width="0.25" text-rendering="geometricPrecision" xml:space="preserve">19821.5</text>
<rect x="1617" y="393" width="1" height="2" fill="#000" shape-rendering="crispEdges"/>
<rect x="1618" y="388" width="41" height="11" fill="#f00" shape-rendering="crispEdges"/>
<text transform="translate(1621.9,397) scale(0.88,1)" x="0.00 5.68 11.36 17.05 22.73 28.41 31.82" y="0" font-size="9.8" fill="#fff" stroke="#fff" stroke-width="0.1" text-rendering="geometricPrecision" xml:space="preserve">21078.4</text>
<rect x="1617" y="448" width="1" height="2" fill="#000" shape-rendering="crispEdges"/>
<rect x="1618" y="443" width="41" height="11" fill="#f00" shape-rendering="crispEdges"/>
<text transform="translate(1621.9,452) scale(0.88,1)" x="0.00 5.68 11.36 17.05 22.73 28.41 31.82" y="0" font-size="9.8" fill="#fff" stroke="#fff" stroke-width="0.1" text-rendering="geometricPrecision" xml:space="preserve">20868.7</text>
<rect x="1617" y="497" width="1" height="2" fill="#000" shape-rendering="crispEdges"/>
<rect x="1618" y="492" width="41" height="11" fill="#ff8c00" shape-rendering="crispEdges"/>
<text transform="translate(1621.9,501) scale(0.88,1)" x="0.00 5.68 11.36 17.05 22.73 28.41 31.82" y="0" font-size="9.8" fill="#fff" stroke="#fff" stroke-width="0.1" text-rendering="geometricPrecision" xml:space="preserve">20680.7</text>
<rect x="1617" y="579" width="1" height="2" fill="#000" shape-rendering="crispEdges"/>
<rect x="1618" y="574" width="41" height="11" fill="#00f" shape-rendering="crispEdges"/>
<text transform="translate(1621.9,583) scale(0.88,1)" x="0.00 5.68 11.36 17.05 22.73 28.41 31.82" y="0" font-size="9.8" fill="#fff" stroke="#fff" stroke-width="0.1" text-rendering="geometricPrecision" xml:space="preserve">20370.4</text>
<rect x="1617" y="622" width="1" height="2" fill="#000" shape-rendering="crispEdges"/>
<rect x="1618" y="617" width="41" height="11" fill="#00f" shape-rendering="crispEdges"/>
<text transform="translate(1621.9,626) scale(0.88,1)" x="0.00 5.68 11.36 17.05 22.73 28.41 31.82" y="0" font-size="9.8" fill="#fff" stroke="#fff" stroke-width="0.1" text-rendering="geometricPrecision" xml:space="preserve">20204.3</text>
<rect x="1617" y="530" width="1" height="1" fill="#000" shape-rendering="crispEdges"/>
<rect x="1618" y="525" width="41" height="11" fill="#000" shape-rendering="crispEdges"/>
<text transform="translate(1621.9,534) scale(0.88,1)" x="0.00 5.68 11.36 17.05 22.73 28.41 31.82" y="0" font-size="9.8" fill="#fff" stroke="#fff" stroke-width="0.1" text-rendering="geometricPrecision" xml:space="preserve">20558.0</text>
</g>
<path d="M8 31.8 L15.2 31.8 L11.6 36 Z" fill="#000"/>
<text transform="translate(20.3,37) scale(0.88,1)" x="0.00 7.39 13.64 19.32 25.00 29.55 32.95 40.34 46.02 49.43 52.84 58.52 64.20 69.89 75.57 81.25 84.66 90.34 93.75 99.43 105.11 110.80 116.48 122.16 125.57 131.25 134.66 140.34 146.02 151.70 157.39 163.07 166.48 172.16 175.57 181.25 186.93 192.61 198.30 203.98 207.39" y="0" font-size="9.8" fill="#000" stroke="#000" stroke-width="0.25" text-rendering="geometricPrecision" xml:space="preserve">HK50-,H4  20459.0 20606.0 20339.0 20558.0</text>
<text transform="translate(9.3,742) scale(0.88,1)" x="0.00 9.09 15.91 22.73 30.68 34.66 40.34 46.02 49.43 55.11 60.80 64.20 69.89 73.86 77.27 81.82 87.50 93.18 98.86 102.27 107.95 113.64 117.05 121.59 127.27 132.95 138.64 142.05 147.73" y="0" font-size="9.8" fill="#000" stroke="#000" stroke-width="0.25" text-rendering="geometricPrecision" xml:space="preserve">MACD(12,26,9) -192.74 -197.82</text>
<text transform="translate(9.3,838) scale(0.88,1)" x="0.00 7.39 13.64 17.61 21.59 27.27 32.95 36.93 40.34 46.02 51.70 55.11 60.80 66.48 72.16" y="0" font-size="9.8" fill="#000" stroke="#000" stroke-width="0.25" text-rendering="geometricPrecision" xml:space="preserve">RSI(15) 42.3848</text>
<g id="macd" shape-rendering="crispEdges">
<rect x="4" y="783" width="3" height="2" fill="#0f0"/>
<rect x="20" y="783" width="3" height="4" fill="#0f0"/>
<rect x="52" y="779" width="3" height="4" fill="#0f0"/>
<rect x="68" y="772" width="3" height="11" fill="#0f0"/>
<rect x="84" y="767" width="3" height="16" fill="#0f0"/>
<rect x="100" y="762" width="3" height="21" fill="#0f0"/>
<rect x="116" y="755" width="3" height="28" fill="#0f0"/>
<rect x="132" y="753" width="3" height="30" fill="#0f0"/>
<rect x="148" y="751" width="3" height="32" fill="#0f0"/>
<rect x="164" y="754" width="3" height="29" fill="#0f0"/>
<rect x="180" y="754" width="3" height="29" fill="#0f0"/>
<rect x="196" y="753" width="3" height="30" fill="#0f0"/>
<rect x="212" y="748" width="3" height="35" fill="#0f0"/>
<rect x="228" y="745" width="3" height="38" fill="#0f0"/>
<rect x="244" y="745" width="3" height="38" fill="#0f0"/>
<rect x="260" y="741" width="3" height="42" fill="#0f0"/>
<rect x="276" y="737" width="3" height="46" fill="#0f0"/>
<rect x="292" y="735" width="3" height="48" fill="#0f0"/>
<rect x="308" y="735" width="3" height="48" fill="#0f0"/>
<rect x="324" y="736" width="3" height="47" fill="#0f0"/>
<rect x="340" y="737" width="3" height="46" fill="#0f0"/>
<rect x="356" y="745" width="3" height="38" fill="#0f0"/>
<rect x="372" y="754" width="3" height="29" fill="#0f0"/>
<rect x="388" y="762" width="3" height="21" fill="#0f0"/>
<rect x="404" y="768" width="3" height="15" fill="#0f0"/>
<rect x="420" y="768" width="3" height="15" fill="#0f0"/>
<rect x="436" y="770" width="3" height="13" fill="#0f0"/>
<rect x="452" y="772" width="3" height="11" fill="#0f0"/>
<rect x="468" y="777" width="3" height="6" fill="#0f0"/>
<rect x="484" y="780" width="3" height="3" fill="#0f0"/>
<rect x="500" y="781" width="3" height="2" fill="#0f0"/>
<rect x="516" y="782" width="3" height="1" fill="#0f0"/>
<rect x="532" y="782" width="3" height="1" fill="#0f0"/>
<rect x="548" y="779" width="3" height="4" fill="#0f0"/>
<rect x="564" y="775" width="3" height="8" fill="#0f0"/>
<rect x="580" y="775" width="3" height="8" fill="#0f0"/>
<rect x="596" y="780" width="3" height="3" fill="#0f0"/>
<rect x="612" y="780" width="3" height="3" fill="#0f0"/>
<rect x="628" y="780" width="3" height="3" fill="#0f0"/>
<rect x="644" y="775" width="3" height="8" fill="#0f0"/>
<rect x="660" y="772" width="3" height="11" fill="#0f0"/>
<rect x="676" y="761" width="3" height="22" fill="#0f0"/>
<rect x="692" y="755" width="3" height="28" fill="#0f0"/>
<rect x="708" y="754" width="3" height="29" fill="#0f0"/>
<rect x="724" y="749" width="3" height="34" fill="#0f0"/>
<rect x="740" y="749" width="3" height="34" fill="#0f0"/>
<rect x="756" y="750" width="3" height="33" fill="#0f0"/>
<rect x="772" y="751" width="3" height="32" fill="#0f0"/>
<rect x="788" y="755" width="3" height="28" fill="#0f0"/>
<rect x="804" y="757" width="3" height="26" fill="#0f0"/>
<rect x="820" y="758" width="3" height="25" fill="#0f0"/>
<rect x="836" y="759" width="3" height="24" fill="#0f0"/>
<rect x="852" y="762" width="3" height="21" fill="#0f0"/>
<rect x="868" y="766" width="3" height="17" fill="#0f0"/>
<rect x="884" y="770" width="3" height="13" fill="#0f0"/>
<rect x="900" y="773" width="3" height="10" fill="#0f0"/>
<rect x="916" y="773" width="3" height="10" fill="#0f0"/>
<rect x="932" y="774" width="3" height="9" fill="#0f0"/>
<rect x="948" y="774" width="3" height="9" fill="#0f0"/>
<rect x="964" y="781" width="3" height="2" fill="#0f0"/>
<rect x="980" y="783" width="3" height="3" fill="#0f0"/>
<rect x="996" y="783" width="3" height="10" fill="#0f0"/>
<rect x="1012" y="783" width="3" height="16" fill="#0f0"/>
<rect x="1028" y="783" width="3" height="18" fill="#0f0"/>
<rect x="1044" y="783" width="3" height="22" fill="#0f0"/>
<rect x="1060" y="783" width="3" height="24" fill="#0f0"/>
<rect x="1076" y="783" width="3" height="27" fill="#0f0"/>
<rect x="1092" y="783" width="3" height="31" fill="#0f0"/>
<rect x="1108" y="783" width="3" height="36" fill="#0f0"/>
<rect x="1124" y="783" width="3" height="34" fill="#0f0"/>
<rect x="1140" y="783" width="3" height="32" fill="#0f0"/>
<rect x="1156" y="783" width="3" height="33" fill="#0f0"/>
<rect x="1172" y="783" width="3" height="32" fill="#0f0"/>
<rect x="1188" y="783" width="3" height="27" fill="#0f0"/>
<rect x="1204" y="783" width="3" height="25" fill="#0f0"/>
<rect x="1220" y="783" width="3" height="26" fill="#0f0"/>
<rect x="1236" y="783" width="3" height="26" fill="#0f0"/>
<rect x="1252" y="783" width="3" height="26" fill="#0f0"/>
<rect x="1268" y="783" width="3" height="26" fill="#0f0"/>
<rect x="1284" y="783" width="3" height="26" fill="#0f0"/>
<rect x="1300" y="783" width="3" height="27" fill="#0f0"/>
</g>
<defs><clipPath id="cm"><rect x="5" y="730" width="1611" height="93"/></clipPath><clipPath id="cr"><rect x="5" y="826" width="1611" height="100"/></clipPath></defs>
<polyline clip-path="url(#cm)" shape-rendering="crispEdges" fill="none" stroke="#f00" stroke-width="2" stroke-linejoin="round" points="5.1,783.6 21.5,783.1 53.4,782.3 75.9,781.8 85.5,780.6 101.4,778.3 117.6,775.3 133.5,771.0 149.4,767.2 165.4,764.1 181.3,761.1 197.5,758.3 213.7,755.3 229.4,753.3 245.3,751.2 261.5,749.5 277.4,748.4 293.3,746.4 309.5,744.4 325.5,742.4 341.4,740.4 357.3,739.9 373.5,740.4 389.4,742.4 405.1,745.2 421.5,749.0 437.4,753.3 453.4,757.0 469.5,761.3 485.5,765.9 501.4,769.9 517.6,773.2 533.5,776.5 549.4,777.5 565.4,777.8 581.3,778.8 597.5,779.0 613.7,779.0 629.4,779.0 645.3,778.3 661.5,777.5 677.4,775.3 693.3,772.2 709.5,770.2 725.5,767.2 741.4,763.4 757.3,760.3 773.5,757.0 789.4,755.0 805.1,753.3 821.5,753.0 837.4,753.3 853.4,754.3 869.5,756.3 885.5,759.3 901.4,761.3 917.6,764.1 933.5,766.2 949.4,768.4 965.4,770.2 981.3,773.2 997.5,776.0 1013.7,780.1 1029.4,783.1 1045.3,787.1 1061.5,790.2 1077.4,794.5 1093.3,799.3 1109.5,803.6 1125.5,806.6 1141.4,809.6 1157.3,811.9 1173.5,812.7 1189.4,812.9 1205.1,812.9 1221.5,812.9 1237.4,812.7 1253.4,811.2 1269.5,810.7 1285.5,809.9 1301.4,809.9"/>
<rect x="1617" y="783" width="1" height="1" fill="#000" shape-rendering="crispEdges"/>
<text transform="translate(1619.4,740) scale(0.88,1)" x="0.00 5.68 11.36 17.05 20.45 26.14" y="0" font-size="9.8" fill="#000" stroke="#000" stroke-width="0.25" text-rendering="geometricPrecision" xml:space="preserve">402.32</text>
<text transform="translate(1619.4,787) scale(0.88,1)" x="0.00 5.68 9.09 14.77" y="0" font-size="9.8" fill="#000" stroke="#000" stroke-width="0.25" text-rendering="geometricPrecision" xml:space="preserve">0.00</text>
<text transform="translate(1619.4,820) scale(0.88,1)" x="0.00 4.55 10.23 15.91 21.59 25.00 30.68" y="0" font-size="9.8" fill="#000" stroke="#000" stroke-width="0.25" text-rendering="geometricPrecision" xml:space="preserve">-302.51</text>
<g id="rsi" shape-rendering="crispEdges">
<line x1="6" y1="846.5" x2="1616" y2="846.5" stroke="#000" stroke-width="1" stroke-dasharray="3 3"/>
<line x1="6" y1="876.5" x2="1616" y2="876.5" stroke="#000" stroke-width="1" stroke-dasharray="3 3"/>
<line x1="6" y1="911.5" x2="1616" y2="911.5" stroke="#000" stroke-width="1" stroke-dasharray="3 3"/>
</g>
<polyline clip-path="url(#cr)" shape-rendering="crispEdges" fill="none" stroke="#1e90ff" stroke-width="2" stroke-linejoin="round" points="5.1,877.7 15.2,878.9 21.5,878.9 37.4,872.1 53.4,871.9 69.5,866.0 85.5,865.5 101.4,864.3 113.8,860.7 118.9,860.7 133.5,865.8 149.4,866.0 165.4,872.1 181.3,870.3 197.5,866.3 213.7,861.7 222.5,861.7 229.4,863.5 245.3,865.8 261.5,861.2 277.4,860.7 285.8,860.0 293.3,860.0 309.5,862.2 325.5,863.3 341.4,863.8 357.3,877.7 373.5,880.7 384.4,882.2 392.0,882.2 400.0,880.7 405.1,879.4 421.5,874.1 437.4,874.1 453.4,875.1 469.5,882.2 485.5,879.4 501.4,877.7 517.6,876.2 533.5,875.1 549.4,869.8 565.4,868.8 581.3,874.1 597.5,879.2 613.7,875.1 629.4,874.6 645.3,869.3 661.5,867.8 677.4,859.0 693.3,861.2 709.5,867.0 725.5,862.7 741.4,868.8 757.3,870.1 773.5,870.1 789.4,872.9 800.0,872.9 812.6,872.6 821.5,870.6 837.4,870.6 853.4,874.1 869.5,876.9 885.5,876.9 901.4,876.7 917.6,874.1 933.5,874.1 949.4,874.1 965.4,883.7 981.3,884.0 997.5,888.8 1013.7,888.8 1029.4,885.8 1045.3,888.0 1061.5,888.0 1077.4,889.8 1093.3,892.6 1109.5,895.4 1125.5,882.0 1141.4,882.2 1157.3,885.8 1173.5,885.0 1189.4,877.7 1205.1,878.9 1221.5,883.7 1237.4,883.7 1253.4,883.5 1269.5,882.7 1285.5,885.8 1293.6,885.3 1301.4,884.7"/>
<text transform="translate(1619.4,836) scale(0.88,1)" x="0.00 5.68 11.36" y="0" font-size="9.8" fill="#000" stroke="#000" stroke-width="0.25" text-rendering="geometricPrecision" xml:space="preserve">100</text>
<text transform="translate(1619.4,850) scale(0.88,1)" x="0.00 5.68" y="0" font-size="9.8" fill="#000" stroke="#000" stroke-width="0.25" text-rendering="geometricPrecision" xml:space="preserve">80</text>
<text transform="translate(1619.4,880) scale(0.88,1)" x="0.00 5.68" y="0" font-size="9.8" fill="#000" stroke="#000" stroke-width="0.25" text-rendering="geometricPrecision" xml:space="preserve">50</text>
<text transform="translate(1619.4,915) scale(0.88,1)" x="0.00 5.68" y="0" font-size="9.8" fill="#000" stroke="#000" stroke-width="0.25" text-rendering="geometricPrecision" xml:space="preserve">15</text>
<text transform="translate(1619.4,923) scale(0.88,1)" x="0.00" y="0" font-size="9.8" fill="#000" stroke="#000" stroke-width="0.25" text-rendering="geometricPrecision" xml:space="preserve">0</text>
<g id="taxis">
<rect x="5" y="927" width="1" height="3" fill="#000" shape-rendering="crispEdges"/>
<text transform="translate(4.1,939) scale(0.88,1)" x="0.00 5.68 11.36 14.77 23.86 29.55 35.23 38.64 44.32 50.00 55.68" y="0" font-size="9.8" fill="#000" stroke="#000" stroke-width="0.25" text-rendering="geometricPrecision" xml:space="preserve">26 May 2022</text>
<rect x="69" y="927" width="1" height="3" fill="#000" shape-rendering="crispEdges"/>
<text transform="translate(68.1,939) scale(0.88,1)" x="0.00 5.68 11.36 14.77 23.86 29.55 35.23 38.64 44.32 50.00 53.75 59.43" y="0" font-size="9.8" fill="#000" stroke="#000" stroke-width="0.25" text-rendering="geometricPrecision" xml:space="preserve">30 May 01:15</text>
<rect x="133" y="927" width="1" height="3" fill="#000" shape-rendering="crispEdges"/>
<text transform="translate(132.1,939) scale(0.88,1)" x="0.00 5.68 9.09 13.64 19.32 25.00 28.41 34.09 39.77 43.52 49.20" y="0" font-size="9.8" fill="#000" stroke="#000" stroke-width="0.25" text-rendering="geometricPrecision" xml:space="preserve">1 Jun 01:15</text>
<rect x="197" y="927" width="1" height="3" fill="#000" shape-rendering="crispEdges"/>
<text transform="translate(196.1,939) scale(0.88,1)" x="0.00 5.68 9.09 13.64 19.32 25.00 28.41 34.09 39.77 43.52 49.20" y="0" font-size="9.8" fill="#000" stroke="#000" stroke-width="0.25" text-rendering="geometricPrecision" xml:space="preserve">6 Jun 01:15</text>
<rect x="261" y="927" width="1" height="3" fill="#000" shape-rendering="crispEdges"/>
<text transform="translate(260.1,939) scale(0.88,1)" x="0.00 5.68 9.09 13.64 19.32 25.00 28.41 34.09 39.77 43.52 49.20" y="0" font-size="9.8" fill="#000" stroke="#000" stroke-width="0.25" text-rendering="geometricPrecision" xml:space="preserve">8 Jun 01:15</text>
<rect x="325" y="927" width="1" height="3" fill="#000" shape-rendering="crispEdges"/>
<text transform="translate(324.1,939) scale(0.88,1)" x="0.00 5.68 11.36 14.77 19.32 25.00 30.68 34.09 39.77 45.45 49.20 54.89" y="0" font-size="9.8" fill="#000" stroke="#000" stroke-width="0.25" text-rendering="geometricPrecision" xml:space="preserve">10 Jun 01:15</text>
<rect x="389" y="927" width="1" height="3" fill="#000" shape-rendering="crispEdges"/>
<text transform="translate(388.1,939) scale(0.88,1)" x="0.00 5.68 11.36 14.77 19.32 25.00 30.68 34.09 39.77 45.45 49.20 54.89" y="0" font-size="9.8" fill="#000" stroke="#000" stroke-width="0.25" text-rendering="geometricPrecision" xml:space="preserve">14 Jun 01:15</text>
<rect x="453" y="927" width="1" height="3" fill="#000" shape-rendering="crispEdges"/>
<text transform="translate(452.1,939) scale(0.88,1)" x="0.00 5.68 11.36 14.77 19.32 25.00 30.68 34.09 39.77 45.45 49.20 54.89" y="0" font-size="9.8" fill="#000" stroke="#000" stroke-width="0.25" text-rendering="geometricPrecision" xml:space="preserve">16 Jun 01:15</text>
<rect x="517" y="927" width="1" height="3" fill="#000" shape-rendering="crispEdges"/>
<text transform="translate(516.1,939) scale(0.88,1)" x="0.00 5.68 11.36 14.77 19.32 25.00 30.68 34.09 39.77 45.45 49.20 54.89" y="0" font-size="9.8" fill="#000" stroke="#000" stroke-width="0.25" text-rendering="geometricPrecision" xml:space="preserve">20 Jun 01:15</text>
<rect x="581" y="927" width="1" height="3" fill="#000" shape-rendering="crispEdges"/>
<text transform="translate(580.1,939) scale(0.88,1)" x="0.00 5.68 11.36 14.77 19.32 25.00 30.68 34.09 39.77 45.45 49.20 54.89" y="0" font-size="9.8" fill="#000" stroke="#000" stroke-width="0.25" text-rendering="geometricPrecision" xml:space="preserve">22 Jun 01:15</text>
<rect x="645" y="927" width="1" height="3" fill="#000" shape-rendering="crispEdges"/>
<text transform="translate(644.1,939) scale(0.88,1)" x="0.00 5.68 11.36 14.77 19.32 25.00 30.68 34.09 39.77 45.45 49.20 54.89" y="0" font-size="9.8" fill="#000" stroke="#000" stroke-width="0.25" text-rendering="geometricPrecision" xml:space="preserve">24 Jun 01:15</text>
<rect x="709" y="927" width="1" height="3" fill="#000" shape-rendering="crispEdges"/>
<text transform="translate(708.1,939) scale(0.88,1)" x="0.00 5.68 11.36 14.77 19.32 25.00 30.68 34.09 39.77 45.45 49.20 54.89" y="0" font-size="9.8" fill="#000" stroke="#000" stroke-width="0.25" text-rendering="geometricPrecision" xml:space="preserve">28 Jun 01:15</text>
<rect x="773" y="927" width="1" height="3" fill="#000" shape-rendering="crispEdges"/>
<text transform="translate(772.1,939) scale(0.88,1)" x="0.00 5.68 11.36 14.77 19.32 25.00 30.68 34.09 39.77 45.45 49.20 54.89" y="0" font-size="9.8" fill="#000" stroke="#000" stroke-width="0.25" text-rendering="geometricPrecision" xml:space="preserve">30 Jun 01:15</text>
<rect x="837" y="927" width="1" height="3" fill="#000" shape-rendering="crispEdges"/>
<text transform="translate(836.1,939) scale(0.88,1)" x="0.00 5.68 9.09 13.64 19.32 21.59 25.00 30.68 36.36 40.11 45.80" y="0" font-size="9.8" fill="#000" stroke="#000" stroke-width="0.25" text-rendering="geometricPrecision" xml:space="preserve">5 Jul 01:15</text>
<rect x="901" y="927" width="1" height="3" fill="#000" shape-rendering="crispEdges"/>
<text transform="translate(900.1,939) scale(0.88,1)" x="0.00 5.68 9.09 13.64 19.32 21.59 25.00 30.68 36.36 40.11 45.80" y="0" font-size="9.8" fill="#000" stroke="#000" stroke-width="0.25" text-rendering="geometricPrecision" xml:space="preserve">7 Jul 01:15</text>
<rect x="965" y="927" width="1" height="3" fill="#000" shape-rendering="crispEdges"/>
<text transform="translate(964.1,939) scale(0.88,1)" x="0.00 5.68 11.36 14.77 19.32 25.00 27.27 30.68 36.36 42.05 45.80 51.48" y="0" font-size="9.8" fill="#000" stroke="#000" stroke-width="0.25" text-rendering="geometricPrecision" xml:space="preserve">11 Jul 01:15</text>
<rect x="1029" y="927" width="1" height="3" fill="#000" shape-rendering="crispEdges"/>
<text transform="translate(1028.1,939) scale(0.88,1)" x="0.00 5.68 11.36 14.77 19.32 25.00 27.27 30.68 36.36 42.05 45.80 51.48" y="0" font-size="9.8" fill="#000" stroke="#000" stroke-width="0.25" text-rendering="geometricPrecision" xml:space="preserve">13 Jul 01:15</text>
<rect x="1093" y="927" width="1" height="3" fill="#000" shape-rendering="crispEdges"/>
<text transform="translate(1092.1,939) scale(0.88,1)" x="0.00 5.68 11.36 14.77 19.32 25.00 27.27 30.68 36.36 42.05 45.80 51.48" y="0" font-size="9.8" fill="#000" stroke="#000" stroke-width="0.25" text-rendering="geometricPrecision" xml:space="preserve">15 Jul 01:15</text>
<rect x="1157" y="927" width="1" height="3" fill="#000" shape-rendering="crispEdges"/>
<text transform="translate(1156.1,939) scale(0.88,1)" x="0.00 5.68 11.36 14.77 19.32 25.00 27.27 30.68 36.36 42.05 45.80 51.48" y="0" font-size="9.8" fill="#000" stroke="#000" stroke-width="0.25" text-rendering="geometricPrecision" xml:space="preserve">19 Jul 01:15</text>
<rect x="1221" y="927" width="1" height="3" fill="#000" shape-rendering="crispEdges"/>
<text transform="translate(1220.1,939) scale(0.88,1)" x="0.00 5.68 11.36 14.77 19.32 25.00 27.27 30.68 36.36 42.05 45.80 51.48" y="0" font-size="9.8" fill="#000" stroke="#000" stroke-width="0.25" text-rendering="geometricPrecision" xml:space="preserve">21 Jul 01:15</text>
<rect x="1285" y="927" width="1" height="3" fill="#000" shape-rendering="crispEdges"/>
<text transform="translate(1284.1,939) scale(0.88,1)" x="0.00 5.68 11.36 14.77 19.32 25.00 27.27 30.68 36.36 42.05 45.80 51.48" y="0" font-size="9.8" fill="#000" stroke="#000" stroke-width="0.25" text-rendering="geometricPrecision" xml:space="preserve">25 Jul 01:15</text>
</g>
</svg></body></html>
